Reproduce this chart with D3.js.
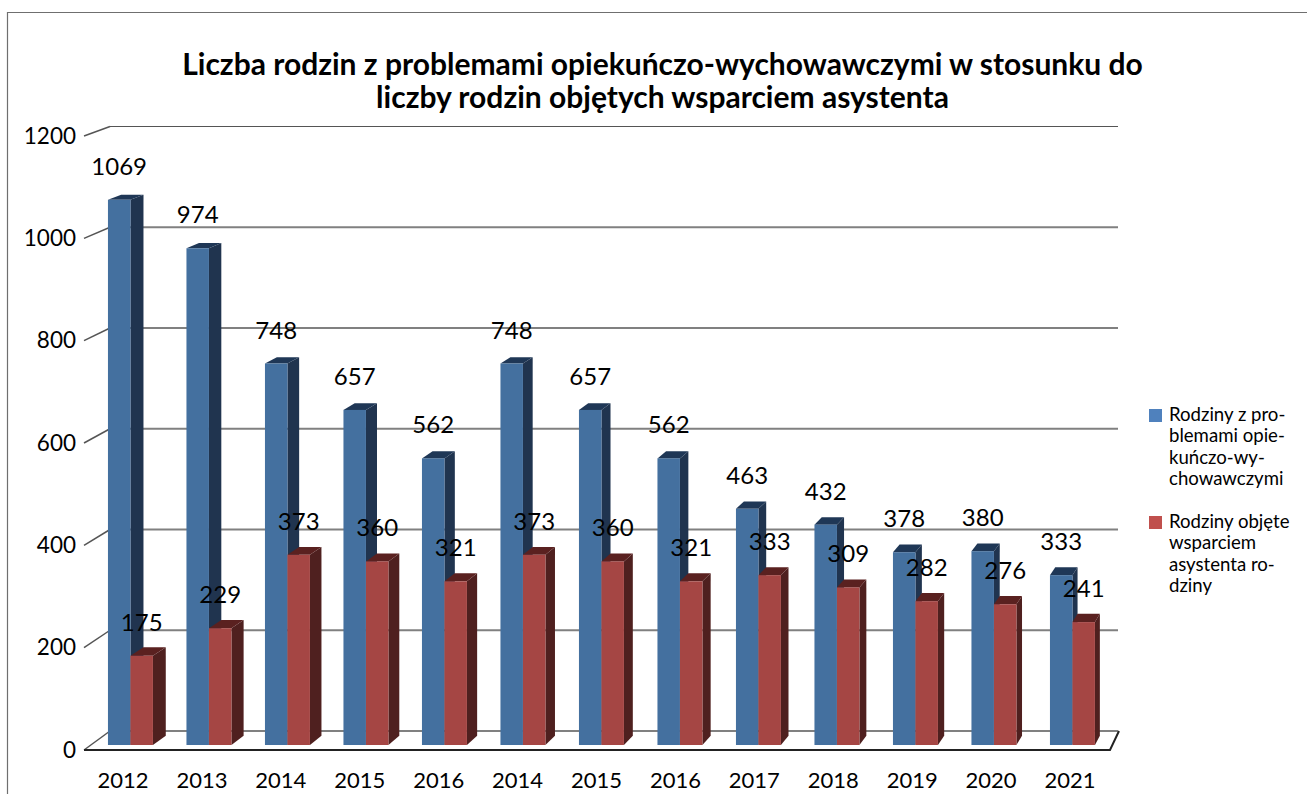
<!DOCTYPE html>
<html lang="pl">
<head>
<meta charset="utf-8">
<title>Liczba rodzin</title>
<script src="https://cdn.jsdelivr.net/npm/d3@7"></script>
<style>
html, body { margin: 0; padding: 0; background: #fff; }
svg { display: block; }
text { font-family: Lato, "Open Sans", sans-serif; fill: #000; }
</style>
</head>
<body>
<script>
var categories = ["2012","2013","2014","2015","2016","2014","2015","2016","2017","2018","2019","2020","2021"];
var problemFamilies = [1069,974,748,657,562,748,657,562,463,432,378,380,333];
var supportedFamilies = [175,229,373,360,321,373,360,321,333,309,282,276,241];
var yTicks = [0,200,400,600,800,1000,1200];
var titleLines = ["Liczba rodzin z problemami opiekuńczo-wychowawczymi w stosunku do", "liczby rodzin objętych wsparciem asystenta"];
var legendBlue = ["Rodziny z pro-", "blemami opie-", "kuńczo-wy-", "chowawczymi"];
var legendRed = ["Rodziny objęte", "wsparciem", "asystenta ro-", "dziny"];

var w = 1307, h = 794;

var svg = d3.select("body").append("svg").attr("width", w).attr("height", h);

// frame, only left and top are inside the picture
svg.append("path").attr("d", "M7.5,794V12.5H1307").attr("fill", "none").attr("stroke", "#6f6f6f").attr("stroke-width", 1.2);

var x = d3.scaleBand().domain(d3.range(categories.length)).range([91.2, 1111.7]).paddingInner(0.427).paddingOuter(0.2135);
var xLabel = d3.scalePoint().domain(d3.range(categories.length)).range([123, 1070]);
var yFront = d3.scaleLinear().domain([0, 1200]).range([745, 133]);
var yBack = d3.scaleLinear().domain([0, 1200]).range([731, 126.5]);
var yTick = d3.scaleLinear().domain([0, 1200]).range([750, 136]);

// back wall gridlines and the slanted bits to the tick labels
svg.append("g").selectAll("line").data(yTicks).enter().append("line")
	.attr("x1", 110).attr("x2", 1118)
	.attr("y1", function(d) { return yBack(d); })
	.attr("y2", function(d) { return yBack(d); })
	.attr("stroke", function(d) { return d == 1200 ? "#555" : "#808080"; })
	.attr("stroke-width", function(d) { return d == 1200 ? 1 : 2; });

svg.append("g").selectAll("line").data(yTicks).enter().append("line")
	.attr("x1", 84).attr("x2", 110)
	.attr("y1", function(d) { return yTick(d); })
	.attr("y2", function(d) { return yBack(d); })
	.attr("stroke", "#555").attr("stroke-width", 1.5);

// floor outline
svg.append("path")
	.attr("d", "M84," + yTick(0) + "H1110L1119," + yBack(0))
	.attr("fill", "none").attr("stroke", "#222").attr("stroke-width", 2);

// depth of a bar shrinks towards the vanishing point
function dx(px) { return 0.0084 * (1681 - px); }
function dy(py) { return 0.0078 * (py + 440); }

function drawBars(values, offset, front, side, top) {
	var g = svg.append("g");
	var bw = x.bandwidth() / 2;
	values.forEach(function(d, i) {
		var x0 = x(i) + offset * bw, x1 = x0 + bw;
		var y0 = yFront(d), yb = yFront(0);
		var tx = dx(x1), ty = dy(y0), bx = dx(x1), by = dy(yb);
		var tl = dx(x0);
		// side
		g.append("path")
			.attr("d", "M" + x1 + "," + y0 + "L" + (x1 + tx) + "," + (y0 - ty) + "L" + (x1 + bx) + "," + (yb - by) + "L" + x1 + "," + yb + "Z")
			.attr("fill", side);
		// top
		g.append("path")
			.attr("d", "M" + x0 + "," + y0 + "L" + (x0 + tl) + "," + (y0 - ty) + "L" + (x1 + tx) + "," + (y0 - ty) + "L" + x1 + "," + y0 + "Z")
			.attr("fill", top);
		g.append("rect")
			.attr("x", x0).attr("y", y0)
			.attr("width", bw).attr("height", yb - y0)
			.attr("fill", front);
	});
}

drawBars(problemFamilies, 0, "#44709f", "#20344f", "#1f3756");
drawBars(supportedFamilies, 1, "#a54644", "#4f201f", "#5a2120");

// value labels
function drawLabels(values, offset) {
	svg.append("g").selectAll("text").data(values).enter().append("text")
		.text(function(d) { return d; })
		.attr("text-anchor", "middle")
		.attr("x", function(d, i) { return x(i) + (offset + 0.5) * x.bandwidth() / 2; })
		.attr("y", function(d) { return yFront(d) - 25; })
		.attr("font-size", "24px");
}
drawLabels(problemFamilies, 0);
drawLabels(supportedFamilies, 1);

// y axis labels
svg.append("g").selectAll("text").data(yTicks).enter().append("text")
	.text(function(d) { return d; })
	.attr("text-anchor", "end")
	.attr("x", 76)
	.attr("y", function(d) { return yTick(d) + 7.5; })
	.attr("font-size", "22.5px");

// x axis labels
svg.append("g").selectAll("text").data(categories).enter().append("text")
	.text(function(d) { return d; })
	.attr("text-anchor", "middle")
	.attr("x", function(d, i) { return xLabel(i); })
	.attr("y", 788)
	.attr("font-size", "22px");

// title
svg.append("g").selectAll("text").data(titleLines).enter().append("text")
	.text(function(d) { return d; })
	.attr("text-anchor", "middle")
	.attr("x", 662.5)
	.attr("y", function(d, i) { return 75 + i * 33; })
	.attr("font-size", "30px")
	.attr("font-weight", "bold");

// legend
function drawLegend(lines, color, top) {
	var g = svg.append("g");
	g.append("rect").attr("x", 1149).attr("y", top).attr("width", 13).attr("height", 13).attr("fill", color);
	g.selectAll("text").data(lines).enter().append("text")
		.text(function(d) { return d; })
		.attr("x", 1169)
		.attr("y", function(d, i) { return top + 12 + i * 21.4; })
		.attr("font-size", "18.6px");
}
drawLegend(legendBlue, "#4f81bd", 409);
drawLegend(legendRed, "#c0504d", 516);
</script>
</body>
</html>
